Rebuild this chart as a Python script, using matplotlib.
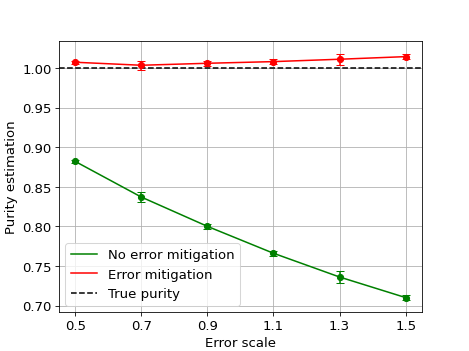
import matplotlib
matplotlib.use("Agg")
import matplotlib.pyplot as plt
import numpy as np

error_scale = [0.5, 0.7, 0.9, 1.1, 1.3, 1.5]

no_mit = [0.882, 0.837, 0.800, 0.766, 0.736, 0.710]
no_mit_err = [0.002, 0.0065, 0.003, 0.003, 0.0075, 0.003]

mit = [1.0072, 1.0034, 1.0059, 1.0080, 1.0110, 1.0143]
mit_err = [0.002, 0.006, 0.003, 0.003, 0.007, 0.003]

true_purity = 1.0

plt.rcParams["font.size"] = 13

fig, ax = plt.subplots(figsize=(6.4, 4.8), dpi=73.3)

ax.plot(error_scale, no_mit, color="green", label="No error mitigation")
ax.errorbar(error_scale, no_mit, yerr=no_mit_err, fmt="o", color="green",
            capsize=4, markersize=6)
ax.plot(error_scale, mit, color="red", label="Error mitigation")
ax.errorbar(error_scale, mit, yerr=mit_err, fmt="o", color="red",
            capsize=4, markersize=6)
ax.axhline(true_purity, color="black", linestyle="--", label="True purity")

ax.set_xticks(error_scale)
ax.set_xlabel("Error scale")
ax.set_ylabel("Purity estimation")
ax.grid(True)
ax.legend(loc="lower left")

plt.savefig("out.png", dpi=73.3)
